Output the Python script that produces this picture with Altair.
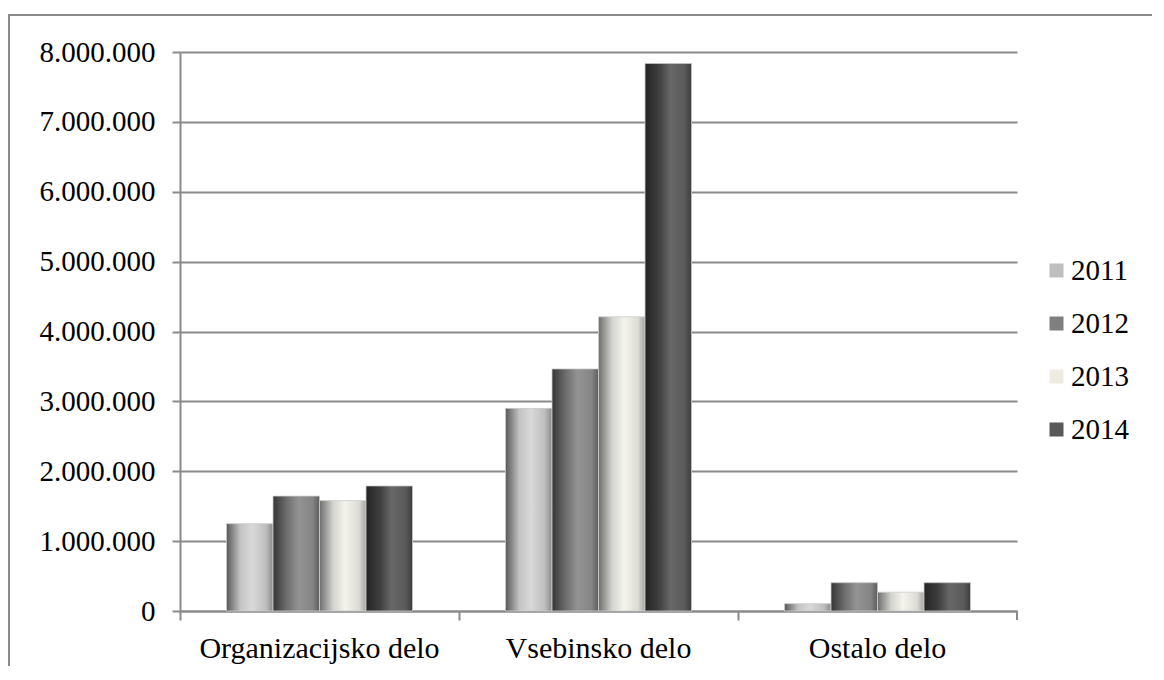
import altair as alt
import pandas as pd

categories = ["Organizacijsko delo", "Vsebinsko delo", "Ostalo delo"]
years = ["2011", "2012", "2013", "2014"]
v2011 = [1250000, 2900000, 105000]
v2012 = [1645000, 3465000, 405000]
v2013 = [1580000, 4210000, 270000]
v2014 = [1790000, 7835000, 405000]
y_ticks = [0, 1000000, 2000000, 3000000, 4000000, 5000000, 6000000, 7000000, 8000000]

legend_colors = ["#bfbfbf", "#7f7f7f", "#eeece1", "#595959"]
gradients = {
    "2011": ["#595959", "#c4c4c4", "#d9d9d9", "#bdbdbd", "#8a8a8a"],
    "2012": ["#363636", "#6e6e6e", "#939393", "#858585", "#5e5e5e"],
    "2013": ["#6e6e6e", "#d4d4d0", "#f4f3ec", "#dcdbd4", "#a6a6a2"],
    "2014": ["#242424", "#3e3e3e", "#686868", "#5a5a5a", "#3e3e3e"],
}
offsets = [0, 0.3, 0.55, 0.85, 1]

series = {"2011": v2011, "2012": v2012, "2013": v2013, "2014": v2014}
rows = []
for yr, vals in series.items():
    for c, v in zip(categories, vals):
        rows.append({"category": c, "year": yr, "value": v})
df = pd.DataFrame(rows)

W, H = 837, 559
FONT = "Liberation Serif"
GRID = "#8a8a8a"

x_enc = alt.X("category:N", sort=categories, title=None,
              scale=alt.Scale(paddingInner=0, paddingOuter=0),
              axis=alt.Axis(labelAngle=0, labelFont=FONT, labelFontSize=30,
                            labelColor="black", bandPosition=0, tickSize=9,
                            tickColor=GRID, tickWidth=2, domainColor=GRID,
                            domainWidth=2, labelPadding=13, grid=False,
                            labelLimit=0))
xo_enc = alt.XOffset("year:N", sort=years,
                     scale=alt.Scale(domain=years, paddingOuter=1.0, paddingInner=0))
y_enc = alt.Y("value:Q", title=None,
              scale=alt.Scale(domain=[0, 8000000], nice=False),
              axis=alt.Axis(values=y_ticks, labelFont=FONT, labelFontSize=29,
                            labelColor="black", tickSize=8, tickColor=GRID,
                            tickWidth=2, domainColor=GRID, domainWidth=2,
                            gridColor=GRID, gridWidth=2, labelPadding=17,
                            labelLimit=0,
                            labelExpr="replace(format(datum.value, ',d'), /,/g, '.')"))

base = alt.Chart(df).mark_bar().encode(
    x=x_enc, xOffset=xo_enc, y=y_enc,
    color=alt.Color("year:N", sort=years,
                    scale=alt.Scale(domain=years, range=legend_colors),
                    legend=alt.Legend(title=None, orient="none", legendX=862, legendY=204,
                                      symbolType="square", symbolSize=196,
                                      symbolStrokeWidth=0, labelFont=FONT,
                                      labelFontSize=29, labelColor="black",
                                      labelOffset=0, rowPadding=23)),
)

layers = [base]
for yr in years:
    grad = alt.Gradient(gradient="linear", x1=0, x2=1, y1=0, y2=0,
                        stops=[alt.GradientStop(offset=o, color=c)
                               for o, c in zip(offsets, gradients[yr])])
    layers.append(
        alt.Chart(df).transform_filter(alt.datum.year == yr)
        .mark_bar(fill=grad, stroke="#cfcfcf", strokeWidth=0.8)
        .encode(x=x_enc, xOffset=xo_enc, y=y_enc)
    )

frame_df = pd.DataFrame({"a": [0]})
end_tick = alt.Chart(frame_df).mark_rule(color=GRID, strokeWidth=2).encode(
    x=alt.value(W), y=alt.value(H), y2=alt.value(H + 9))
frame = alt.Chart(frame_df).mark_rect(fill=None, stroke=GRID, strokeWidth=2).encode(
    x=alt.value(-171), x2=alt.value(W + 400), y=alt.value(-37), y2=alt.value(H + 300))

chart = alt.layer(*layers, end_tick, frame).properties(
    width=W, height=H,
    padding={"left": 172, "top": 44, "right": 135, "bottom": 55},
    autosize="none",
).configure_view(stroke=None).configure_axis(gridColor=GRID)

chart.save("out.html", embed_options={"renderer": "svg", "actions": False})
